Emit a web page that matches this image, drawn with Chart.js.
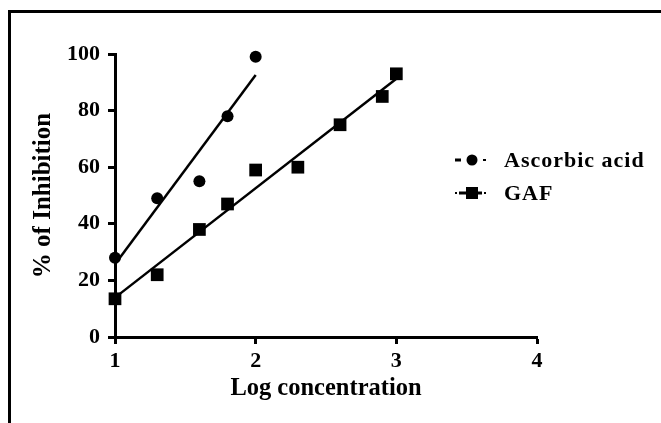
<!DOCTYPE html>
<html>
<head>
<meta charset="utf-8">
<script src="https://cdn.jsdelivr.net/npm/chart.js@4"></script>
<style>
  html, body { margin: 0; padding: 0; background: #fff; }
  #wrap { width: 661px; height: 423px; position: relative; }
</style>
</head>
<body>
<div id="wrap"><canvas id="chart"></canvas></div>
<script>
// values
const ascorbicX = [1, 1.3, 1.6, 1.8, 2];
const ascorbicY = [28, 49, 55, 78, 99];
const gafX = [1, 1.3, 1.6, 1.8, 2, 2.3, 2.6, 2.9, 3];
const gafY = [13.5, 22, 38, 47, 59, 60, 75, 85, 93];
const seriesNames = ['Ascorbic acid', 'GAF'];
const xTicks = [1, 2, 3, 4];
const yTicks = [0, 20, 40, 60, 80, 100];

const serif = '"Liberation Serif", "Times New Roman", serif';

function toPoints(xs, ys) {
    return xs.map((x, i) => ({ x: x, y: ys[i] }));
}

// least squares line, drawn over the x range of the data
function fitLine(xs, ys) {
    const n = xs.length;
    const mx = xs.reduce((a, b) => a + b, 0) / n;
    const my = ys.reduce((a, b) => a + b, 0) / n;
    let sxy = 0, sxx = 0;
    for (let i = 0; i < n; i++) {
        sxy += (xs[i] - mx) * (ys[i] - my);
        sxx += (xs[i] - mx) * (xs[i] - mx);
    }
    const slope = sxy / sxx;
    const x1 = Math.min(...xs), x2 = Math.max(...xs);
    return [
        { x: x1, y: my + slope * (x1 - mx) },
        { x: x2, y: my + slope * (x2 - mx) }
    ];
}

// white page with the frame lines on top and left
const framePlugin = {
    id: 'frame',
    beforeDraw(chart) {
        const ctx = chart.ctx;
        ctx.save();
        ctx.fillStyle = '#fff';
        ctx.fillRect(0, 0, chart.width, chart.height);
        ctx.fillStyle = '#000';
        ctx.fillRect(8, 10, chart.width - 8, 3);
        ctx.fillRect(8, 10, 3, chart.height - 10);
        ctx.restore();
    }
};

// legend on the right, line piece + marker + name
const sideLegend = {
    id: 'sideLegend',
    afterDraw(chart) {
        const ctx = chart.ctx;
        ctx.save();
        ctx.fillStyle = '#000';
        seriesNames.forEach((name, i) => {
            const y = 160 + i * 33;
            const mx = 472;
            if (i === 0) {
                ctx.fillRect(455, y - 1.5, 6, 3);
                ctx.fillRect(483, y - 1, 3, 2);
                ctx.beginPath();
                ctx.arc(mx, y, 5.5, 0, 2 * Math.PI);
                ctx.fill();
            } else {
                ctx.fillRect(455, y - 1, 2, 2);
                ctx.fillRect(459, y - 1.5, 8, 3);
                ctx.fillRect(477, y - 1.5, 5, 3);
                ctx.fillRect(484, y - 1, 2, 2);
                ctx.fillRect(mx - 6, y - 6, 12, 12);
            }
            ctx.font = 'bold 22px ' + serif;
            ctx.letterSpacing = '1px';
            ctx.textBaseline = 'middle';
            ctx.textAlign = 'left';
            ctx.fillText(name, 504, y + 1);
        });
        ctx.restore();
    }
};

const ctx = document.getElementById('chart').getContext('2d');

new Chart(ctx, {
    type: 'scatter',
    data: {
        datasets: [
            {
                label: seriesNames[0],
                data: toPoints(ascorbicX, ascorbicY),
                pointStyle: 'circle',
                pointRadius: 6,
                backgroundColor: '#000',
                borderColor: '#000',
                borderWidth: 0,
                clip: false
            },
            {
                label: seriesNames[1],
                data: toPoints(gafX, gafY),
                pointStyle: 'rect',
                pointRadius: 9,
                backgroundColor: '#000',
                borderColor: '#000',
                borderWidth: 0,
                clip: false
            },
            {
                label: 'fit ascorbic',
                data: fitLine(ascorbicX, ascorbicY),
                showLine: true,
                pointRadius: 0,
                borderColor: '#000',
                borderWidth: 2.5,
                clip: false
            },
            {
                label: 'fit gaf',
                data: fitLine(gafX, gafY),
                showLine: true,
                pointRadius: 0,
                borderColor: '#000',
                borderWidth: 2.5,
                clip: false
            }
        ]
    },
    options: {
        responsive: true,
        maintainAspectRatio: false,
        animation: false,
        layout: {
            padding: { top: 54, right: 124, bottom: 0, left: 0 }
        },
        plugins: {
            legend: { display: false },
            tooltip: { enabled: false }
        },
        scales: {
            x: {
                type: 'linear',
                min: 1,
                max: 4,
                afterFit: (scale) => { scale.height = 86; },
                afterBuildTicks: (scale) => { scale.ticks = xTicks.map(v => ({ value: v })); },
                border: { display: true, color: '#000', width: 3 },
                grid: { drawOnChartArea: false, drawTicks: true, tickLength: 7, tickColor: '#000', tickWidth: 3 },
                ticks: {
                    color: '#000',
                    padding: 4,
                    font: { family: serif, size: 22, weight: 'bold' }
                },
                title: {
                    display: true,
                    text: 'Log concentration',
                    color: '#000',
                    padding: { top: 0, bottom: 20 },
                    font: { family: serif, size: 24.5, weight: 'bold' }
                }
            },
            y: {
                type: 'linear',
                min: 0,
                max: 100,
                afterFit: (scale) => { scale.width = 115; },
                afterBuildTicks: (scale) => { scale.ticks = yTicks.map(v => ({ value: v })); },
                border: { display: true, color: '#000', width: 3 },
                grid: { drawOnChartArea: false, drawTicks: true, tickLength: 7, tickColor: '#000', tickWidth: 3 },
                ticks: {
                    color: '#000',
                    padding: 8,
                    font: { family: serif, size: 22, weight: 'bold' }
                },
                title: {
                    display: true,
                    text: '% of Inhibition',
                    color: '#000',
                    padding: { top: 29, bottom: 0 },
                    font: { family: serif, size: 25, weight: 'bold' }
                }
            }
        }
    },
    plugins: [framePlugin, sideLegend]
});
</script>
</body>
</html>
